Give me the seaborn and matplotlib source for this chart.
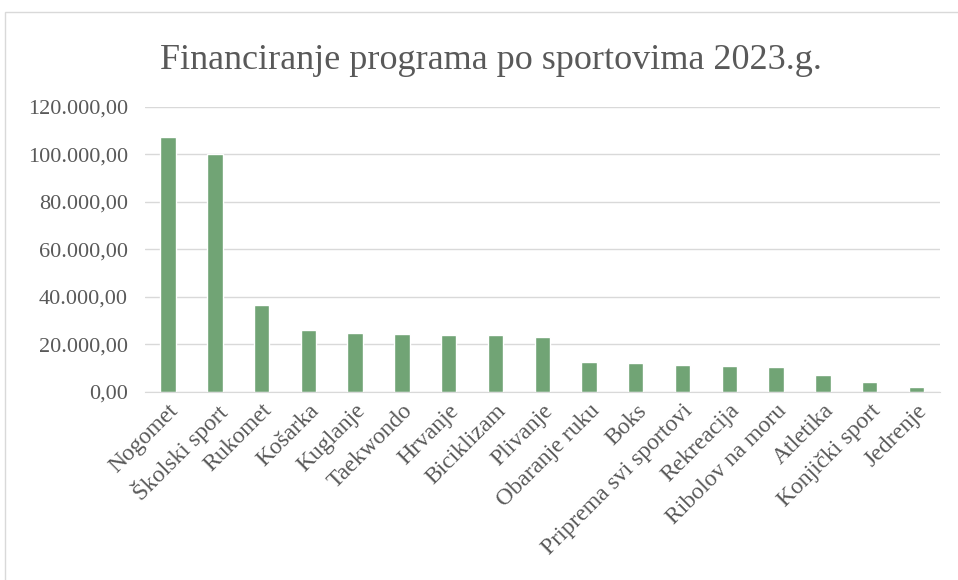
import matplotlib
matplotlib.use('Agg')
import matplotlib.pyplot as plt
import matplotlib.ticker as mticker
import seaborn as sns
import pandas as pd

# podaci (procijenjeno s grafikona)
sportovi = ['Nogomet', 'Školski sport', 'Rukomet', 'Košarka', 'Kuglanje', 'Taekwondo',
            'Hrvanje', 'Biciklizam', 'Plivanje', 'Obaranje ruku', 'Boks',
            'Priprema svi sportovi', 'Rekreacija', 'Ribolov na moru', 'Atletika',
            'Konjički sport', 'Jedrenje']
iznosi = [107200, 100000, 36500, 26000, 24600, 24300,
          24000, 23900, 22900, 12400, 12000,
          11100, 10950, 10500, 7000,
          4000, 2000]
y_ticks = [0, 20000, 40000, 60000, 80000, 100000, 120000]

df = pd.DataFrame({'sport': sportovi, 'iznos': iznosi})

sns.set_style('white')
plt.rcParams['font.family'] = ['Liberation Serif', 'DejaVu Serif']

siva = '#595959'
fig = plt.figure(figsize=(9.58, 5.8), dpi=100)
ax = fig.add_axes([0.151, 0.3247, 0.83, 0.4913])

sns.barplot(data=df, x='sport', y='iznos', color='#71A475', width=0.33,
            saturation=1, ax=ax)

ax.set_ylim(0, 120000)
ax.set_xlim(-0.5, len(sportovi) - 0.5)
ax.set_yticks(y_ticks)
ax.yaxis.set_major_formatter(mticker.FuncFormatter(
    lambda v, p: f'{v:,.2f}'.replace(',', 'X').replace('.', ',').replace('X', '.')))
ax.grid(axis='y', color='#D9D9D9', linewidth=1)
ax.set_axisbelow(True)
for s in ['top', 'right', 'left']:
    ax.spines[s].set_visible(False)
ax.spines['bottom'].set_color('#D9D9D9')
ax.tick_params(axis='both', length=0, colors=siva)
ax.tick_params(axis='y', pad=12, labelsize=16)
ax.tick_params(axis='x', pad=6, labelsize=17)
plt.setp(ax.get_xticklabels(), rotation=45, ha='right', rotation_mode='anchor')
ax.set_xlabel('')
ax.set_ylabel('')

fig.text(0.512, 0.895, 'Financiranje programa po sportovima 2023.g.',
         ha='center', va='center', fontsize=26, color=siva)

# okvir grafikona
fig.patches.append(plt.Rectangle((0.005, -0.05), 1.2, 1.03,
                                 transform=fig.transFigure, fill=False,
                                 edgecolor='#D9D9D9', linewidth=1))

fig.savefig('out.png', dpi=100)
